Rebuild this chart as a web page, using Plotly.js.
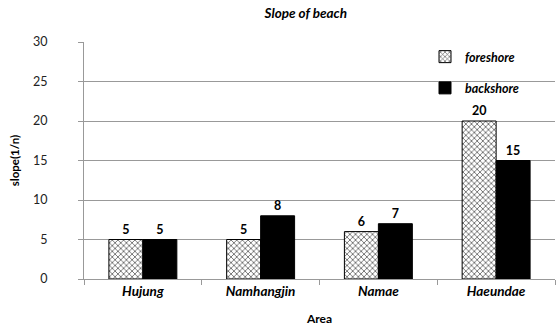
<!DOCTYPE html>
<html><head><meta charset="utf-8">
<script src="https://cdn.plot.ly/plotly-3.0.1.min.js"></script>
<style>body{margin:0;}#c{width:556px;height:332px;}</style>
</head><body><div id="c"></div>
<script>
const categories = ["Hujung", "Namhangjin", "Namae", "Haeundae"];
const foreshore = [5, 5, 6, 20];
const backshore = [5, 8, 7, 15];
const yTicks = [0, 5, 10, 15, 20, 25, 30];

const font = "Lato, 'Open Sans', sans-serif";
const traces = [
  {type: "bar", name: "<b><i>foreshore</i></b>", x: categories, y: foreshore,
   text: foreshore.map(v => "<b>" + v + "</b>"), textposition: "outside", legendgroup: "a",
   textfont: {family: font, size: 12.5, color: "#000"},
   marker: {color: "#ffffff", line: {color: "#000", width: 1},
            pattern: {shape: "x", fgcolor: "#555", bgcolor: "#ffffff", size: 4, solidity: 0.35}},
   cliponaxis: false},
  {type: "bar", name: "<b><i>backshore</i></b>", x: categories, y: backshore,
   text: backshore.map(v => "<b>" + v + "</b>"), textposition: "outside", legendgroup: "b",
   textfont: {family: font, size: 12.5, color: "#000"},
   marker: {color: "#000000", line: {color: "#000", width: 1}},
   cliponaxis: false}
];
const layout = {
  width: 556, height: 332,
  margin: {l: 84, r: 1, t: 42, b: 53},
  paper_bgcolor: "#fff", plot_bgcolor: "#fff",
  font: {family: font, size: 12, color: "#000"},
  title: {text: "<b><i>Slope of beach</i></b>", x: 0.55, xanchor: "center", y: 0.96, yanchor: "middle",
          font: {family: font, size: 13.5}},
  barmode: "group", bargap: 0.423, bargroupgap: 0,
  showlegend: true,
  legend: {x: 0.724, y: 1.0, xanchor: "left", yanchor: "top", bgcolor: "rgba(0,0,0,0)",
           tracegroupgap: 12, font: {family: font, size: 12.5}, itemwidth: 30},
  xaxis: {showline: true, linecolor: "#999", linewidth: 1, ticks: "outside", tickson: "boundaries",
          ticklen: 5, tickcolor: "#999",
          tickfont: {family: font, size: 13.5}, tickprefix: "<b><i>", ticksuffix: "</i></b>",
          title: {text: "<b>Area</b>", font: {family: font, size: 12}, standoff: 16}},
  yaxis: {range: [0, 30], tickvals: yTicks, showgrid: true, gridcolor: "#999", gridwidth: 1,
          showline: true, linecolor: "#999", ticks: "outside", ticklen: 5, tickcolor: "#999",
          ticklabelstandoff: 28,
          zeroline: false, tickfont: {family: font, size: 12.5, color: "#222"},
          title: {text: "<b>slope(1/n)</b>", font: {family: font, size: 11.5}, standoff: 10}}
};
Plotly.newPlot("c", traces, layout, {displayModeBar: false, staticPlot: true});
</script></body></html>
